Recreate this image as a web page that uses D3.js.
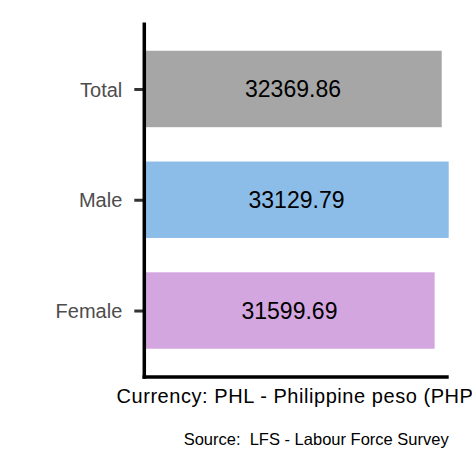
<!DOCTYPE html>
<html>
<head>
<meta charset="utf-8">
<script src="https://cdn.jsdelivr.net/npm/d3@7"></script>
<style>
  html, body { margin: 0; padding: 0; background: #fff; }
  svg { display: block; font-family: "Liberation Sans", Arial, Helvetica, sans-serif; }
</style>
</head>
<body>
<svg id="chart" width="472" height="472"></svg>
<script>
const categories = ["Total", "Male", "Female"];
const values = [32369.86, 33129.79, 31599.69];
const colors = ["#a6a6a6", "#8cbde8", "#d4a6e0"];
const valueLabels = ["32369.86", "33129.79", "31599.69"];
const xTitle = "Currency: PHL - Philippine peso (PHP)";
const caption = "Source:  LFS - Labour Force Survey";

const svg = d3.select("#chart");
const pLeft = 144.3, pRight = 448.7, pTop = 22.5, pBottom = 377;

const x = d3.scaleLinear().domain([0, d3.max(values)]).range([pLeft, pRight]);
const y = d3.scalePoint().domain(categories).range([pTop, pBottom]).padding(0.6);
const bh = y.step() * 0.69;

const data = categories.map((c, i) => ({ c, v: values[i], col: colors[i], lab: valueLabels[i] }));

svg.selectAll("rect.bar").data(data).enter().append("rect")
  .attr("class", "bar")
  .attr("x", x(0))
  .attr("y", d => y(d.c) - bh / 2)
  .attr("width", d => x(d.v) - x(0))
  .attr("height", bh)
  .attr("fill", d => d.col);

svg.selectAll("text.val").data(data).enter().append("text")
  .attr("class", "val")
  .attr("x", d => (x(0) + x(d.v)) / 2)
  .attr("y", d => y(d.c))
  .attr("dy", "0.36em")
  .attr("text-anchor", "middle")
  .attr("font-size", 23)
  .attr("fill", "#000")
  .text(d => d.lab);

// y axis
const yAxis = d3.axisLeft(y).tickSize(10).tickPadding(12);
const gy = svg.append("g").attr("transform", `translate(${pLeft},0)`).call(yAxis);
gy.select(".domain").remove();
gy.selectAll(".tick line").attr("stroke", "#333333").attr("stroke-width", 3);
gy.selectAll(".tick text").attr("font-size", 20).attr("fill", "#4d4d4d")
  .attr("font-family", "'Liberation Sans', Arial, sans-serif").attr("dy", "0.36em");

// axis lines
svg.append("line").attr("x1", pLeft).attr("x2", pLeft).attr("y1", pTop).attr("y2", pBottom + 1.75)
  .attr("stroke", "#000").attr("stroke-width", 3.5);
svg.append("line").attr("x1", pLeft - 1.75).attr("x2", pRight).attr("y1", pBottom).attr("y2", pBottom)
  .attr("stroke", "#000").attr("stroke-width", 3.5);

svg.append("text")
  .attr("x", 116.5).attr("y", 403)
  .attr("text-anchor", "start").attr("font-size", 20).attr("fill", "#000")
  .attr("letter-spacing", 0.55)
  .text(xTitle);

svg.append("text")
  .attr("x", pRight).attr("y", 445)
  .attr("text-anchor", "end").attr("font-size", 16.5).attr("fill", "#000")
  .style("white-space", "pre")
  .text(caption);
</script>
</body>
</html>
